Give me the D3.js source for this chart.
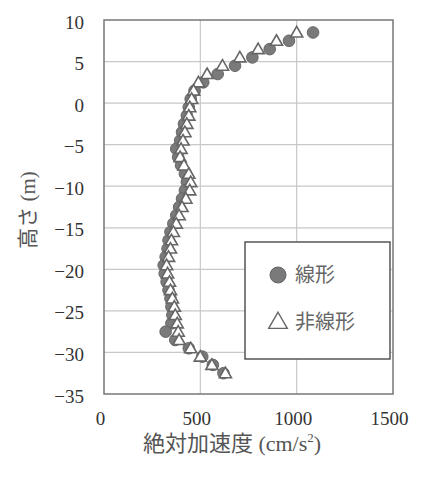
<!DOCTYPE html>
<html>
<head>
<meta charset="utf-8">
<script src="https://cdn.jsdelivr.net/npm/d3@7"></script>
<style>
  body { margin: 0; background: #fff; }
  text { font-family: "Liberation Serif", "Noto Sans CJK JP", serif; fill: #333; }
</style>
</head>
<body>
<svg id="chart" width="432" height="478"></svg>
<script>
// heights (m) shared by both series
const heights = [8.5, 7.5, 6.5, 5.5, 4.5, 3.5, 2.5, 1.5, 0.5, -0.5, -1.5, -2.5, -3.5, -4.5,
  -5.5, -6.5, -7.5, -8.5, -9.5, -10.5, -11.5, -12.5, -13.5, -14.5, -15.5, -16.5, -17.5,
  -18.5, -19.5, -20.5, -21.5, -22.5, -23.5, -24.5, -25.5, -26.5, -27.5, -28.5, -29.5,
  -30.5, -31.5, -32.5];
// 線形 (linear)
const linearAcc = [1085, 960, 860, 770, 680, 590, 515, 470, 450, 440, 430, 415, 405, 395,
  375, 385, 400, 420, 430, 420, 405, 390, 375, 360, 345, 335, 330,
  320, 310, 315, 325, 335, 345, 350, 355, 350, 320, 370, 440,
  510, 565, 620];
// 非線形 (nonlinear)
const nonlinearAcc = [1000, 895, 800, 705, 615, 535, 490, 465, 455, 445, 440, 430, 420, 410,
  400, 395, 415, 440, 450, 445, 425, 405, 390, 375, 360, 350, 345,
  335, 325, 330, 340, 345, 355, 365, 370, 380, 385, 390, 450,
  500, 560, 630];
const xTicks = [0, 500, 1000, 1500];
const yTicks = [10, 5, 0, -5, -10, -15, -20, -25, -30, -35];

const margin = { top: 20, left: 104, right: 39, bottom: 84 };
const width = 432, height = 478;
const serif = '"Liberation Serif", "Noto Sans CJK JP", serif';

const svg = d3.select('#chart');

const x = d3.scaleLinear()
  .domain([0, 1500])
  .range([margin.left, width - margin.right]);

const y = d3.scaleLinear()
  .domain([-35, 10])
  .range([height - margin.bottom, margin.top]);

// grid
svg.append('g')
  .selectAll('line.vgrid')
  .data(xTicks.slice(1, -1))
  .enter().append('line')
    .attr('x1', d => x(d)).attr('x2', d => x(d))
    .attr('y1', y(10)).attr('y2', y(-35))
    .style('stroke', '#c8c8c8')
    .style('stroke-width', 1.2);

svg.append('g')
  .selectAll('line.hgrid')
  .data(yTicks.slice(1, -1))
  .enter().append('line')
    .attr('x1', x(0)).attr('x2', x(1500))
    .attr('y1', d => y(d)).attr('y2', d => y(d))
    .style('stroke', '#c8c8c8')
    .style('stroke-width', 1.2);

// frame
svg.append('rect')
  .attr('x', x(0)).attr('y', y(10))
  .attr('width', x(1500) - x(0))
  .attr('height', y(-35) - y(10))
  .style('fill', 'none')
  .style('stroke', '#777')
  .style('stroke-width', 1.5);

// axes (labels only, as in the original)
const xAxis = d3.axisBottom(x)
  .tickValues(xTicks)
  .tickFormat(d3.format('d'))
  .tickSize(0)
  .tickPadding(0);
svg.append('g')
  .attr('transform', `translate(-4,${y(-35) + 17})`)
  .attr('font-family', serif)
  .call(xAxis)
  .call(g => g.select('.domain').remove())
  .selectAll('text')
    .style('font-family', serif)
    .style('font-size', '19px')
    .style('fill', '#333');

const yAxis = d3.axisLeft(y)
  .tickValues(yTicks)
  .tickFormat(d3.format('d'))
  .tickSize(0)
  .tickPadding(0);
svg.append('g')
  .attr('transform', `translate(${x(0) - 20},2)`)
  .attr('font-family', serif)
  .call(yAxis)
  .call(g => g.select('.domain').remove())
  .selectAll('text')
    .style('font-family', serif)
    .style('font-size', '19px')
    .style('fill', '#333');

// axis titles
svg.append('text')
  .attr('x', 232).attr('y', 451)
  .attr('text-anchor', 'middle')
  .style('font-size', '22px')
  .style('fill', '#555')
  .html('絶対加速度 (cm/s<tspan dy="-9" font-size="13px">2</tspan><tspan dy="9">)</tspan>');

svg.append('text')
  .attr('transform', 'translate(35,210) rotate(-90)')
  .attr('text-anchor', 'middle')
  .style('font-size', '21px')
  .style('fill', '#555')
  .text('高さ (m)');

// series
const linear = heights.map((h, i) => ({ h, v: linearAcc[i] }));
const nonlinear = heights.map((h, i) => ({ h, v: nonlinearAcc[i] }));

const tri = d3.symbol().type(d3.symbolTriangle).size(64);

svg.append('g')
  .selectAll('circle')
  .data(linear)
  .enter().append('circle')
    .attr('cx', d => x(d.v))
    .attr('cy', d => y(d.h))
    .attr('r', 5.8)
    .style('fill', '#7a7a7a')
    .style('stroke', '#666')
    .style('stroke-width', 1);

svg.append('g')
  .selectAll('path')
  .data(nonlinear)
  .enter().append('path')
    .attr('d', tri)
    .attr('transform', d => `translate(${x(d.v)},${y(d.h) + 1})`)
    .style('fill', '#fff')
    .style('stroke', '#666')
    .style('stroke-width', 1.6);

// legend
const legend = svg.append('g').attr('transform', 'translate(245,242)');
legend.append('rect')
  .attr('width', 145).attr('height', 117)
  .style('fill', '#fff')
  .style('stroke', '#555')
  .style('stroke-width', 1.5);

legend.append('circle')
  .attr('cx', 33).attr('cy', 33).attr('r', 8)
  .style('fill', '#7a7a7a')
  .style('stroke', '#666');
legend.append('text')
  .attr('x', 50).attr('y', 33).attr('dy', '0.35em')
  .style('font-size', '20px')
  .style('fill', '#666')
  .text('線形');

legend.append('path')
  .attr('d', d3.symbol().type(d3.symbolTriangle).size(150))
  .attr('transform', 'translate(33,81)')
  .style('fill', '#fff')
  .style('stroke', '#666')
  .style('stroke-width', 1.4);
legend.append('text')
  .attr('x', 50).attr('y', 80).attr('dy', '0.35em')
  .style('font-size', '20px')
  .style('fill', '#666')
  .text('非線形');
</script>
</body>
</html>
